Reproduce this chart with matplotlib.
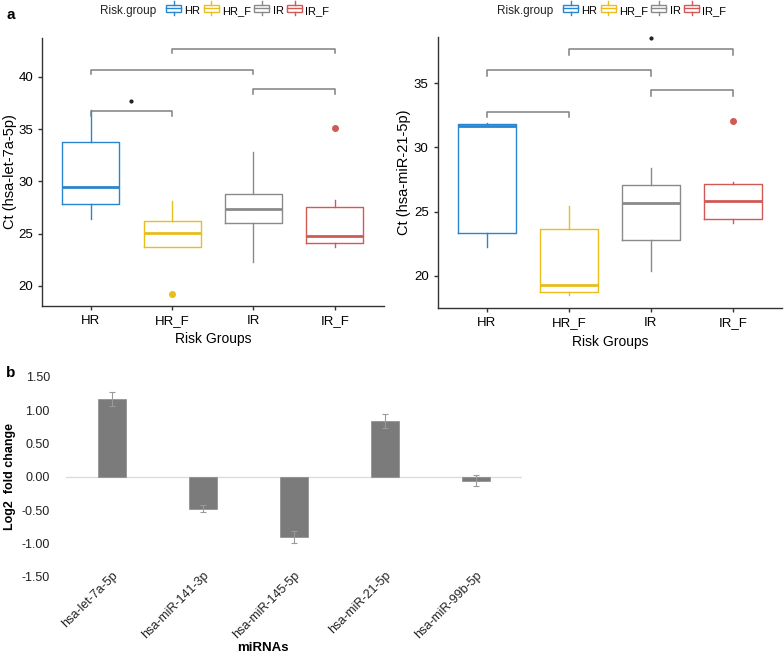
import matplotlib
matplotlib.use('Agg')
import matplotlib.pyplot as plt
from matplotlib.legend_handler import HandlerBase
from matplotlib.patches import Rectangle
from matplotlib.lines import Line2D

plt.rcParams['font.family'] = ['Liberation Sans', 'DejaVu Sans']

# ---- panel a data ----
groups = ['HR', 'HR_F', 'IR', 'IR_F']
colors = ['#2a85cf', '#e8bd1c', '#8a8a8a', '#d05a55']

# let-7a: whislo, q1, med, q3, whishi, outliers
let7_whislo = [26.4, 23.7, 22.3, 23.7]
let7_q1 = [27.8, 23.7, 26.0, 24.1]
let7_med = [29.5, 25.1, 27.4, 24.75]
let7_q3 = [33.8, 26.2, 28.75, 27.5]
let7_whishi = [36.8, 28.1, 32.8, 28.2]
let7_fliers = [[], [19.2], [], [35.1]]

mir21_whislo = [22.2, 18.45, 20.35, 24.1]
mir21_q1 = [23.36, 18.7, 22.8, 24.45]
mir21_med = [31.65, 19.3, 25.7, 25.85]
mir21_q3 = [31.85, 23.65, 27.1, 27.15]
mir21_whishi = [31.9, 25.45, 28.4, 27.3]
mir21_fliers = [[], [], [], [32.1]]

# brackets (group index pairs, height) and significance marks
bracket_pairs = [(1, 2), (3, 4), (1, 3), (2, 4)]
let7_brackets = [36.7, 38.8, 40.7, 42.7]
mir21_brackets = [32.8, 34.45, 36.05, 37.65]
let7_sig = [(1.5, 37.66)]
mir21_sig = [(3.0, 38.5)]

# ---- panel b data ----
mirnas = ['hsa-let-7a-5p', 'hsa-miR-141-3p', 'hsa-miR-145-5p', 'hsa-miR-21-5p', 'hsa-miR-99b-5p']
log2fc = [1.165, -0.48, -0.91, 0.835, -0.06]
log2fc_err = [0.10, 0.05, 0.09, 0.11, 0.08]


class BoxKey(HandlerBase):
    # little boxplot glyph like ggplot's legend key
    def create_artists(self, legend, orig, xd, yd, w, h, fs, trans):
        c = orig.get_edgecolor()
        bw, bh = w, h * 0.75
        x0, y0 = xd, yd + (h - bh) / 2
        r = Rectangle((x0, y0), bw, bh, fill=False, ec=c, lw=1.0, transform=trans)
        m = Line2D([x0, x0 + bw], [y0 + bh / 2] * 2, color=c, lw=1.0, transform=trans)
        t = Line2D([xd + w / 2] * 2, [y0 + bh, yd + h * 1.2], color=c, lw=1.0, transform=trans)
        b = Line2D([xd + w / 2] * 2, [y0, yd - h * 0.2], color=c, lw=1.0, transform=trans)
        return [r, m, t, b]


def box_panel(ax, whislo, q1, med, q3, whishi, fliers, brackets, sig, ylim, ylabel, leg_x, title_x, ylab_x):
    for i in range(4):
        st = [dict(whislo=whislo[i], q1=q1[i], med=med[i], q3=q3[i], whishi=whishi[i], fliers=fliers[i])]
        c = colors[i]
        ax.bxp(st, positions=[i + 1], widths=0.7, showcaps=False,
               boxprops=dict(color=c, lw=1.0),
               whiskerprops=dict(color=c, lw=1.0),
               medianprops=dict(color=c, lw=2.0),
               flierprops=dict(marker='o', mfc=c, mec=c, ms=4))
    tip = 0.45
    for (a, b), y in zip(bracket_pairs, brackets):
        ax.plot([a, a, b, b], [y - tip, y, y, y - tip], color='#808080', lw=1.1, clip_on=False)
    for x, y in sig:
        ax.plot(x, y, 'o', ms=2, color='#222222', clip_on=False)
    ax.set_xlim(0.4, 4.6)
    ax.set_ylim(*ylim)
    ax.set_xticks(range(1, 5))
    ax.set_xticklabels(groups)
    ax.set_xlabel('Risk Groups', fontsize=10, labelpad=4)
    ax.set_ylabel(ylabel, fontsize=10.5, va='center')
    ax.yaxis.set_label_coords(ylab_x, 0.5)
    for s in ['top', 'right']:
        ax.spines[s].set_visible(False)
    for s in ['left', 'bottom']:
        ax.spines[s].set_color('#333333')
        ax.spines[s].set_linewidth(1.0)
    ax.tick_params(labelsize=9.5, length=3, color='#333333', width=1.0)

    handles = [Rectangle((0, 0), 1, 1, fill=False, ec=c) for c in colors]
    ax.legend(handles, groups, handler_map={Rectangle: BoxKey()},
              loc='center left', bbox_to_anchor=(leg_x, 1 - 11 / 654),
              bbox_transform=ax.figure.transFigure, ncol=4,
              frameon=False, fontsize=8, borderpad=0, borderaxespad=0,
              handlelength=1.35, handleheight=1.0, handletextpad=0.3,
              columnspacing=0.3)
    ax.figure.text(title_x, 1 - 11 / 654, 'Risk.group', fontsize=8.5, va='center', color='#222222')


fig = plt.figure(figsize=(7.84, 6.54), dpi=100)

ax1 = fig.add_axes([0.0536, 0.5326, 0.4356, 0.4089])
box_panel(ax1, let7_whislo, let7_q1, let7_med, let7_q3, let7_whishi, let7_fliers,
          let7_brackets, let7_sig, (18.1, 43.7), 'Ct (hsa-let-7a-5p)',
          166 / 784, 100 / 784, -0.093)
ax1.set_yticks([20, 25, 30, 35, 40])

ax2 = fig.add_axes([0.5583, 0.5286, 0.4392, 0.4153])
box_panel(ax2, mir21_whislo, mir21_q1, mir21_med, mir21_q3, mir21_whishi, mir21_fliers,
          mir21_brackets, mir21_sig, (17.45, 38.64), 'Ct (hsa-miR-21-5p)',
          563 / 784, 497 / 784, -0.098)
ax2.set_yticks([20, 25, 30, 35])

ax3 = fig.add_axes([0.0848, 0.1182, 0.5804, 0.3058])
xs = list(range(len(mirnas)))
ax3.bar(xs, log2fc, width=0.31, color='#7b7b7b', edgecolor='#8a8a8a', lw=0.5,
        yerr=log2fc_err, error_kw=dict(ecolor='#9a9a9a', elinewidth=0.8, capsize=2, capthick=0.8))
ax3.axhline(0, color='#dddddd', lw=1.0, zorder=0)
ax3.set_xlim(-0.5, 4.5)
ax3.set_ylim(-1.5, 1.5)
ax3.set_yticks([1.5, 1.0, 0.5, 0.0, -0.5, -1.0, -1.5])
ax3.set_yticklabels(['%.2f' % v for v in [1.5, 1.0, 0.5, 0.0, -0.5, -1.0, -1.5]])
ax3.set_xticks(xs)
ax3.set_xticklabels(mirnas, rotation=45, ha='right', rotation_mode='anchor', fontsize=8)
for s in ax3.spines.values():
    s.set_visible(False)
ax3.tick_params(axis='both', length=0, labelsize=9, colors='#222222')
ax3.tick_params(axis='y', pad=12)
ax3.tick_params(axis='x', pad=-5)
ax3.set_ylabel('Log2  fold change', fontsize=9, fontweight='bold', va='center')
ax3.yaxis.set_label_coords(-0.125, 0.5)
ax3.set_xlabel('miRNAs', fontsize=9.5, fontweight='bold', va='top')
ax3.xaxis.set_label_coords(0.432, -0.325)

fig.text(0.008, 0.977, 'a', fontsize=11, fontweight='bold', va='center')
fig.text(0.008, 0.430, 'b', fontsize=11, fontweight='bold', va='center')

fig.savefig('out.png', dpi=100)
